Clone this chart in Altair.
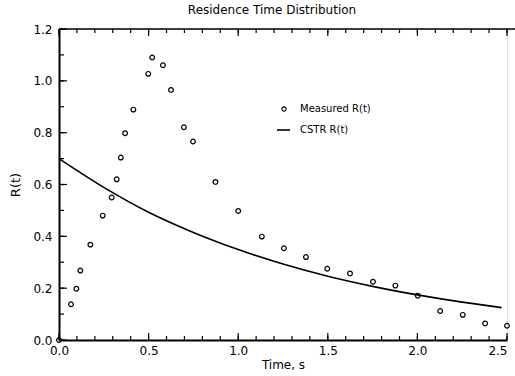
import altair as alt
import pandas as pd

# Measured residence time distribution
t_meas = [0.0, 0.067, 0.097, 0.119, 0.175, 0.244, 0.294, 0.322, 0.345, 0.369,
          0.415, 0.498, 0.52, 0.58, 0.625, 0.697, 0.748, 0.873, 1.0, 1.132,
          1.255, 1.378, 1.497, 1.624, 1.752, 1.877, 2.002, 2.127, 2.253, 2.378, 2.5]
r_meas = [0.0, 0.138, 0.198, 0.268, 0.368, 0.48, 0.55, 0.62, 0.704, 0.798,
          0.889, 1.027, 1.09, 1.06, 0.965, 0.821, 0.766, 0.61, 0.498, 0.399,
          0.354, 0.32, 0.275, 0.257, 0.225, 0.21, 0.171, 0.112, 0.097, 0.064, 0.055]

# CSTR curve
t_cstr = [0.0, 0.25, 0.5, 0.75, 1.0, 1.25, 1.5, 1.75, 2.0, 2.25, 2.47]
r_cstr = [0.70, 0.589, 0.493, 0.415, 0.349, 0.293, 0.246, 0.207, 0.174, 0.146, 0.125]

x_major = [0.0, 0.5, 1.0, 1.5, 2.0, 2.5]
x_minor = [0.0, 0.1, 0.2, 0.3, 0.4, 0.5, 0.6, 0.7, 0.8, 0.9, 1.0, 1.1, 1.2, 1.3,
           1.4, 1.5, 1.6, 1.7, 1.8, 1.9, 2.0, 2.1, 2.2, 2.3, 2.4, 2.5]
y_major = [0.0, 0.2, 0.4, 0.6, 0.8, 1.0, 1.2]
y_minor = [0.0, 0.1, 0.2, 0.3, 0.4, 0.5, 0.6, 0.7, 0.8, 0.9, 1.0, 1.1, 1.2]

legend_labels = ["Measured R(t)", "CSTR R(t)"]

FONT = "DejaVu Sans"
W, H = 448, 311

xs = alt.Scale(domain=[0, 2.5], nice=False, zero=False)
ys = alt.Scale(domain=[0, 1.2], nice=False, zero=False)

ax_x = alt.Axis(
    values=x_major, format=".1f", ticks=False, grid=False, labelFlush=False,
    labelAlign={"expr": "datum.value >= 2.5 ? 'right' : 'center'"},
    domainColor="black", domainWidth=2, labelFont=FONT, labelFontSize=12,
    labelColor="black", labelPadding=5, title="Time, s", titleFont=FONT,
    titleFontSize=12, titleFontWeight="normal", titleColor="black", titlePadding=3)
ax_y = alt.Axis(
    values=y_major, format=".1f", ticks=False, grid=False, labelFlush=False,
    domainColor="black", domainWidth=2, labelFont=FONT, labelFontSize=12,
    labelColor="black", labelPadding=7, title="R(t)", titleFont=FONT,
    titleFontSize=13, titleFontWeight="normal", titleColor="black", titlePadding=10)

meas = pd.DataFrame({"t": t_meas, "r": r_meas})
cstr = pd.DataFrame({"t": t_cstr, "r": r_cstr})

points = alt.Chart(meas).mark_point(
    shape="circle", filled=False, size=22, strokeWidth=1.2, color="black", opacity=1
).encode(x=alt.X("t:Q", scale=xs, axis=ax_x), y=alt.Y("r:Q", scale=ys, axis=ax_y))

curve = alt.Chart(cstr).mark_line(
    color="black", strokeWidth=1.6, interpolate="monotone"
).encode(x=alt.X("t:Q", scale=xs, axis=ax_x), y=alt.Y("r:Q", scale=ys, axis=ax_y))

xmin_df = pd.DataFrame({"t": x_minor})
xmaj_df = pd.DataFrame({"t": x_major})
ymin_df = pd.DataFrame({"r": y_minor})
ymaj_df = pd.DataFrame({"r": y_major})

def xticks(df, y0, y1):
    return alt.Chart(df).mark_rule(color="black", strokeWidth=1.2).encode(
        x=alt.X("t:Q", scale=xs, axis=ax_x), y=alt.value(y0), y2=alt.value(y1))

def yticks(df, x0, x1):
    return alt.Chart(df).mark_rule(color="black", strokeWidth=1.2).encode(
        y=alt.Y("r:Q", scale=ys, axis=ax_y), x=alt.value(x0), x2=alt.value(x1))

ticks = [
    xticks(xmin_df, H, H - 4), xticks(xmaj_df, H, H - 7),
    xticks(xmin_df, 0, 4), xticks(xmaj_df, 0, 7),
    yticks(ymin_df, 0, 5), yticks(ymaj_df, 0, 8),
]

top_frame = alt.Chart(pd.DataFrame({"a": [0]})).mark_rule(color="black", strokeWidth=1.6).encode(
    x=alt.value(0), x2=alt.value(W + 8), y=alt.value(0))

leg_df = pd.DataFrame({"label": legend_labels, "yy": [80, 101]})
leg_text = alt.Chart(leg_df).mark_text(
    align="left", baseline="middle", font=FONT, fontSize=10, color="black"
).encode(x=alt.value(241), y=alt.Y("yy:Q", scale=None, axis=None), text="label:N")
leg_point = alt.Chart(leg_df.iloc[[0]]).mark_point(
    shape="circle", filled=False, size=18, strokeWidth=1.1, color="black", opacity=1
).encode(x=alt.value(225), y=alt.Y("yy:Q", scale=None, axis=None))
leg_line = alt.Chart(leg_df.iloc[[1]]).mark_rule(color="black", strokeWidth=1.6).encode(
    x=alt.value(218), x2=alt.value(231), y=alt.Y("yy:Q", scale=None, axis=None))

chart = alt.layer(
    points, curve, *ticks, top_frame, leg_text, leg_point, leg_line
).properties(
    width=W, height=H,
    title=alt.TitleParams("Residence Time Distribution", font=FONT, fontSize=12,
                          fontWeight="normal", color="black", anchor="middle",
                          dx=-11, offset=6),
    padding={"left": 59, "top": 29, "right": 8, "bottom": 36},
    autosize="none",
).configure_view(stroke=None).configure(background="white")

chart.save("out.html", embed_options={"renderer": "svg", "actions": False})
